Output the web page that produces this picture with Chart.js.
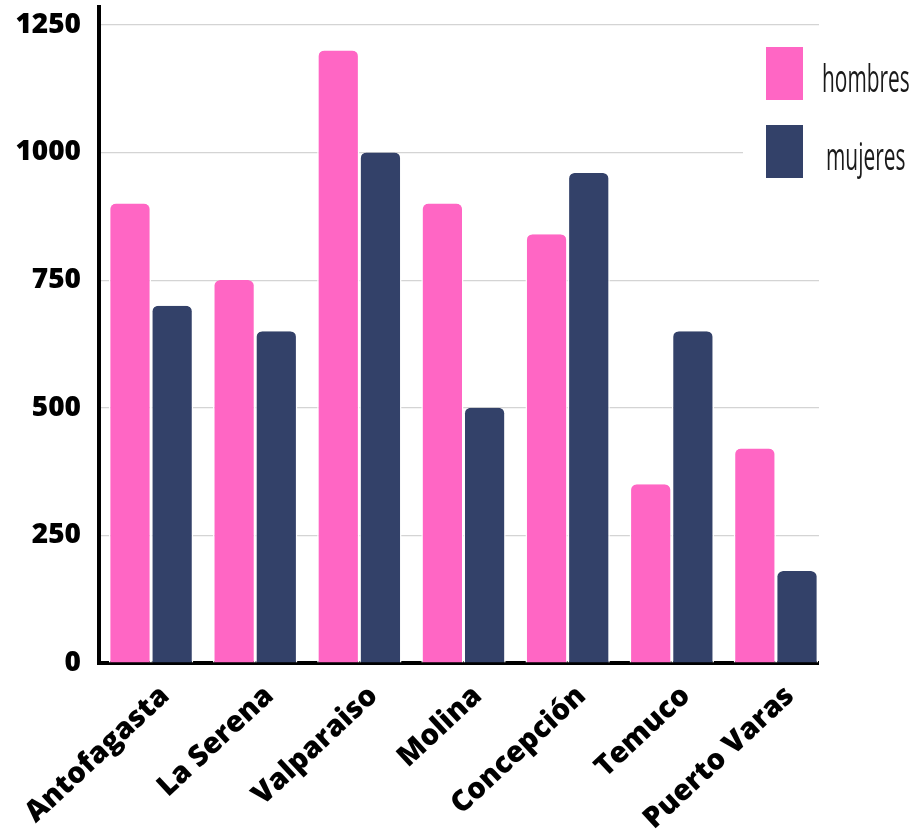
<!DOCTYPE html>
<html>
<head>
<meta charset="utf-8">
<script src="https://cdn.jsdelivr.net/npm/chart.js@4.4.1/dist/chart.umd.min.js"></script>
<style>
  html, body { margin: 0; padding: 0; background: #fff; }
  #wrap { width: 915px; height: 830px; position: relative; }
</style>
</head>
<body>
<div id="wrap"><canvas id="grafico" width="915" height="830"></canvas></div>
<script>
const ciudades = ['Antofagasta', 'La Serena', 'Valparaiso', 'Molina', 'Concepción', 'Temuco', 'Puerto Varas'];
const hombres = [900, 750, 1200, 900, 840, 350, 420];
const mujeres = [700, 650, 1000, 500, 960, 650, 180];
const ticksY = [0, 250, 500, 750, 1000, 1250];

const rosa = '#ff66c4';
const azul = '#334169';

// tapa grilla y eje a la derecha del ultimo grupo, y dibuja la leyenda encima
const leyendaPlugin = {
    id: 'leyendaPlugin',
    afterDraw(chart) {
        const ctx = chart.ctx;
        ctx.save();
        ctx.fillStyle = '#ffffff';
        ctx.fillRect(819, 0, 96, 668);
        ctx.fillRect(743, 38, 172, 152);
        chart.data.datasets.forEach((ds, i) => {
            const y = 47 + i * 78;
            ctx.fillStyle = ds.backgroundColor;
            ctx.fillRect(766, y, 37, 53);
            ctx.save();
            ctx.translate(i === 0 ? 822 : 826, y + 45);
            ctx.scale(0.55, 1);
            ctx.font = '500 38px "Open Sans"';
            ctx.fillStyle = '#1a1a1a';
            ctx.textBaseline = 'alphabetic';
            ctx.fillText(ds.label, 0, 0);
            ctx.restore();
        });
        ctx.restore();
    }
};

new Chart(document.getElementById('grafico').getContext('2d'), {
    type: 'bar',
    data: {
        labels: ciudades,
        datasets: [{
            label: 'hombres',
            data: hombres,
            backgroundColor: rosa,
            borderColor: '#ffffff',
            borderWidth: { left: 1.5, right: 1.5, top: 0, bottom: 0 },
            borderRadius: { topLeft: 7, topRight: 7 },
            borderSkipped: 'bottom'
        }, {
            label: 'mujeres',
            data: mujeres,
            backgroundColor: azul,
            borderColor: '#ffffff',
            borderWidth: { left: 1.5, right: 1.5, top: 0, bottom: 0 },
            borderRadius: { topLeft: 7, topRight: 7 },
            borderSkipped: 'bottom'
        }]
    },
    options: {
        responsive: false,
        animation: false,
        maintainAspectRatio: false,
        categoryPercentage: 0.81,
        barPercentage: 1,
        layout: {
            padding: { top: 7, right: 87, left: 0, bottom: 0 }
        },
        plugins: {
            legend: { display: false },
            tooltip: { enabled: false }
        },
        scales: {
            x: {
                z: 1,   // eje encima de las barras
                grid: { display: false, drawTicks: false },
                border: { display: true, color: '#000', width: 4 },
                ticks: {
                    color: '#000',
                    minRotation: 43,
                    maxRotation: 43,
                    padding: 16,
                    labelOffset: 14,
                    font: { family: '"Open Sans"', size: 29, weight: 800 }
                },
                afterFit(axis) {
                    axis.height = 167;
                    axis.paddingLeft = 0;
                    axis.paddingRight = 0;
                }
            },
            y: {
                min: 0,
                max: 1285,
                afterBuildTicks(axis) {
                    axis.ticks = ticksY.map(v => ({ value: v }));
                },
                grid: { color: '#d4d4d4', lineWidth: 1.2, drawTicks: false },
                border: { display: true, color: '#000', width: 4 },
                ticks: {
                    color: '#000',
                    padding: 18,
                    font: { family: '"Open Sans"', size: 28, weight: 800 },
                    callback: v => String(v)
                },
                afterFit(axis) {
                    axis.width = 99;
                    axis.paddingTop = 0;
                    axis.paddingBottom = 0;
                }
            }
        }
    },
    plugins: [leyendaPlugin]
});
</script>
</body>
</html>
